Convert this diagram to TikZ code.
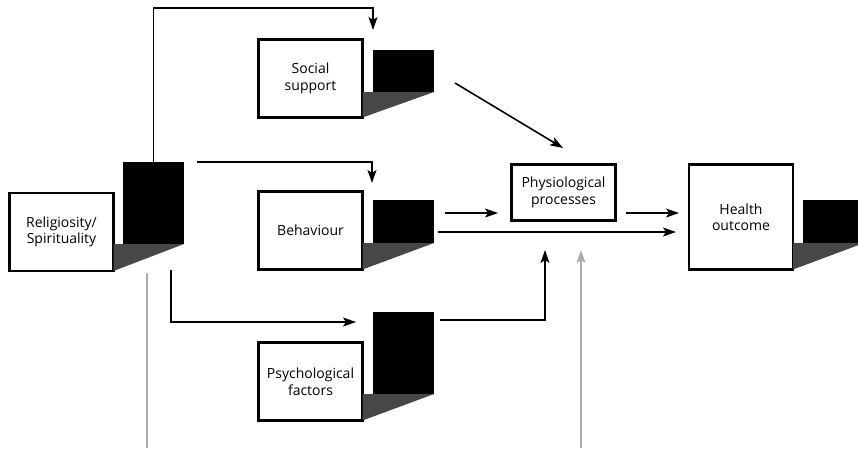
\documentclass[tikz,border=0pt]{standalone}
\usepackage{fontspec}
\setmainfont{Open Sans}
\usetikzlibrary{arrows.meta, calc}

\begin{document}
\begin{tikzpicture}[x=1pt, y=-1pt,
  factor/.style={draw, line width=2.4pt, minimum width=104pt, minimum height=78pt,
                 inner sep=0pt, outer sep=0pt, align=center,
                 font=\fontsize{14}{16.5}\selectfont},
  block/.style={fill=black, minimum width=61pt, inner sep=0pt, outer sep=0pt},
  shade/.style={fill=black!72},
  link/.style={line width=1.6pt, -{Stealth[length=13pt, width=9pt, inset=3pt]}},
  feed/.style={line width=1.6pt, gray!65},
]

\useasboundingbox (0,0) rectangle (858,448);
\clip (0,0) rectangle (858,448);

% factor boxes
\node[factor] (relig) at (61.5, 232) {Religiosity/\\Spirituality};
\node[factor] (social) at (310.5, 78.5) {Social\\support};
\node[factor] (behav) at (310.5, 230.5) {Behaviour};
\node[factor] (psych) at (310.5, 381.5) {Psychological\\factors};
\node[factor, minimum height=56pt] (physio) at (563.5, 192.5) {Physiological\\processes};
\node[factor, minimum height=105pt] (health) at (741, 217) {Health\\outcome};

% black blocks
\node[block, minimum height=82pt] (relig-blk) at (153.5, 203) {};
\node[block, minimum height=42pt] (social-blk) at (403.5, 71) {};
\node[block, minimum height=43pt] (behav-blk) at (403.5, 221.5) {};
\node[block, minimum height=82pt] (psych-blk) at (403.5, 353) {};
\node[block, minimum height=43pt] (health-blk) at (833.5, 221.5) {};

% shadows
\foreach \b in {relig, social, behav, psych, health} {
  \fill[shade] (\b.east |- \b-blk.south) -- (\b-blk.south east) -- (\b.south east) -- cycle;
}

% free ends
\coordinate (top) at (373, 8);
\coordinate (social-in) at (373, 30);
\coordinate (mid-out) at (197, 162);
\coordinate (behav-in) at (372, 183);
\coordinate (low-out) at (171, 270);
\coordinate (psych-in) at (356, 322);
\coordinate (social-out) at (455, 83);
\coordinate (physio-in) at (563, 148);
\coordinate (behav-out) at (445, 213);
\coordinate (physio-w) at (498, 213);
\coordinate (direct-out) at (438, 232);
\coordinate (health-in) at (676, 232);
\coordinate (psych-out) at (440, 320);
\coordinate (physio-s) at (545, 250);
\coordinate (physio-out) at (626, 213);
\coordinate (health-w) at (679, 213);
\coordinate (fb-out) at (147, 273);
\coordinate (fb-end) at (147, 448);
\coordinate (fb-start) at (581, 448);
\coordinate (fb-in) at (581, 250);

% connectors
\draw[link] (relig-blk.north) |- (top) -- (social-in);
\draw[link] (mid-out) -| (behav-in);
\draw[link] (low-out) |- (psych-in);
\draw[link] (social-out) -- (physio-in);
\draw[link] (behav-out) -- (physio-w);
\draw[link] (direct-out) -- (health-in);
\draw[link] (psych-out) -| (physio-s);
\draw[link] (physio-out) -- (health-w);
\draw[feed] (fb-out) -- (fb-end);
\draw[feed, -{Stealth[length=13pt, width=9pt, inset=3pt]}] (fb-start) -- (fb-in);

\end{tikzpicture}
\end{document}
